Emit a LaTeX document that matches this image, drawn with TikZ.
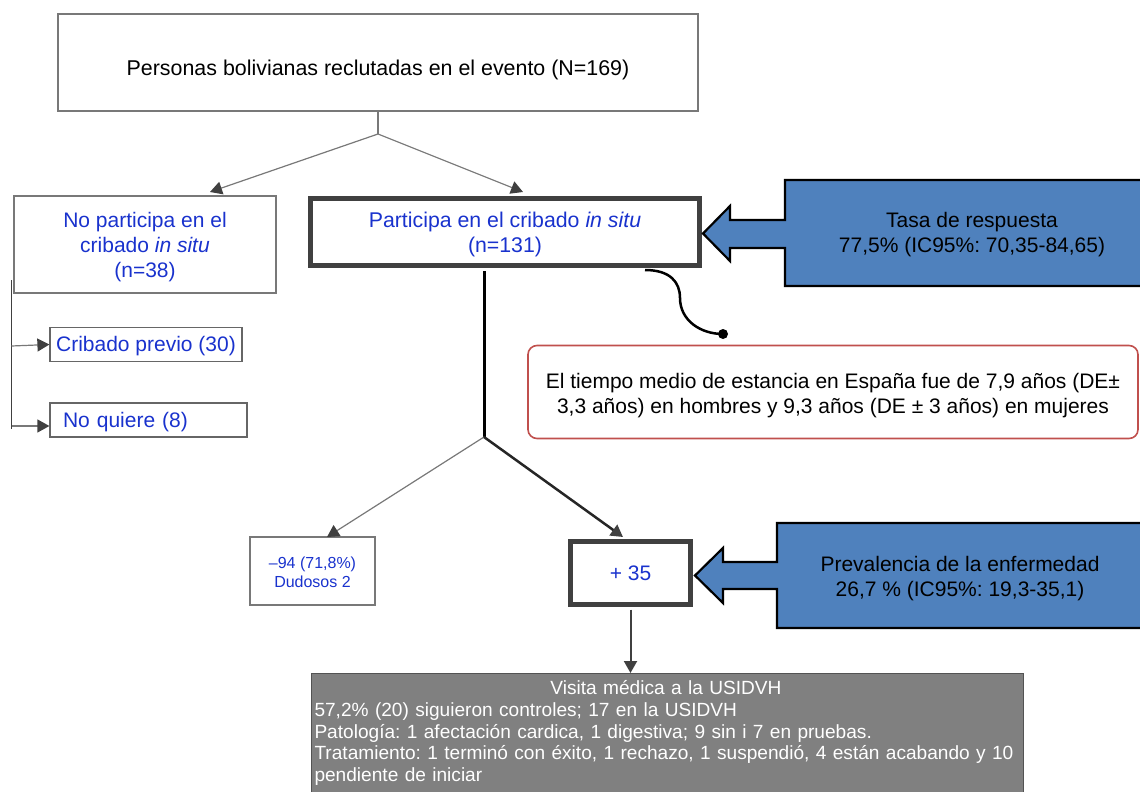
\documentclass[tikz,border=0pt]{standalone}
\usepackage{fontspec}
\setmainfont{Liberation Sans}
\usetikzlibrary{arrows.meta}
\definecolor{txtblue}{RGB}{25,50,205}
\definecolor{arrblue}{RGB}{79,129,189}
\definecolor{boxred}{RGB}{192,80,77}
\definecolor{grayfill}{RGB}{128,128,128}
\definecolor{dgray}{RGB}{64,64,64}
\definecolor{lgray}{RGB}{120,120,120}
\newcommand{\dnshift}[2]{\raisebox{-#1}[\height][\depth]{\begin{tabular}{@{}c@{}}#2\end{tabular}}}
\begin{document}
\frenchspacing
\begin{tikzpicture}[x=1pt,y=-1pt,
  font=\fontsize{21}{25}\selectfont,
  plainbox/.style={draw=lgray, line width=1.2pt, rectangle, inner sep=0pt, align=center},
  heavybox/.style={draw=dgray, line width=5pt, rectangle, inner sep=0pt, align=center},
  bluetxt/.style={text=txtblue},
  tipA/.style={-{Triangle[length=12pt,width=13pt,color=dgray]}},
  thinline/.style={draw=lgray, line width=1.2pt},
  blockarrow/.style={fill=arrblue, draw=black, line width=2.2pt, line join=miter},
]
\useasboundingbox (0,0) rectangle (1140,792);

% boxes
\node[plainbox, minimum width=640pt, minimum height=97pt, font=\fontsize{21.4}{25}\selectfont] (top) at (378,62.5) {\dnshift{8pt}{Personas bolivianas reclutadas en el evento (N=169)}};
\node[plainbox, bluetxt, minimum width=262pt, minimum height=97pt] (nop) at (145,244.5) {\dnshift{3pt}{No participa en el\\cribado \textit{in situ}\\(n=38)}};
\node[heavybox, bluetxt, minimum width=389pt, minimum height=67pt, font=\fontsize{21.3}{25}\selectfont] (par) at (505,232) {\dnshift{3pt}{Participa en el cribado \textit{in situ}\\(n=131)}};
\node[plainbox, draw=dgray!80, bluetxt, minimum width=192pt, minimum height=34pt] (crib) at (146,344.5) {\dnshift{2pt}{Cribado previo (30)}};
\node[plainbox, draw=dgray!80, bluetxt, text width=171pt, align=left, inner xsep=13pt, minimum height=34pt] (noq) at (148.5,420) {\dnshift{2pt}{No quiere (8)}};
\node[plainbox, bluetxt, font=\fontsize{16}{19}\selectfont, minimum width=125pt, minimum height=68pt] (neg) at (312.5,571) {\dnshift{3pt}{–94 (71,8\%)\\Dudosos 2}};
\node[heavybox, bluetxt, minimum width=120pt, minimum height=63pt] (pos) at (630.5,573) {\dnshift{2pt}{+ 35}};
\node[draw=boxred, line width=1.6pt, rounded corners=9pt, minimum width=610pt, minimum height=93pt, align=center, inner sep=0pt] (red) at (833,392)
  {\dnshift{4pt}{El tiempo medio de estancia en España fue de 7,9 años (DE±\\3,3 años) en hombres y 9,3 años (DE ± 3 años) en mujeres}};
\node[fill=grayfill, draw=dgray!90, line width=1pt, anchor=north west, text=white, text width=706pt, align=left,
  inner xsep=3pt, inner ysep=7pt, font=\fontsize{19.1}{21.8}\selectfont] (vis) at (311,673)
  {\makebox[703pt][c]{Visita médica a la USIDVH}\\
   57,2\% (20) siguieron controles; 17 en la USIDVH\\
   Patología: 1 afectación cardica, 1 digestiva; 9 sin i 7 en pruebas.\\
   Tratamiento: 1 terminó con éxito, 1 rechazo, 1 suspendió, 4 están acabando y 10\\
   pendiente de iniciar};

% block arrows
\path[blockarrow] (1150,180) -- (785,180) -- (785,220) -- (730,220) -- (730,206) -- (703,233.5)
  -- (730,261) -- (730,248) -- (785,248) -- (785,286) -- (1150,286) -- cycle;
\node[align=center, inner sep=0pt] (tasa) at (972,232.5) {\dnshift{2pt}{Tasa de respuesta\\77,5\% (IC95\%: 70,35-84,65)}};
\path[blockarrow] (1150,523) -- (777,523) -- (777,562) -- (723,562) -- (723,548) -- (695,575.5)
  -- (723,603) -- (723,589) -- (777,589) -- (777,628) -- (1150,628) -- cycle;
\node[align=center, inner sep=0pt] (prev) at (960,576) {\dnshift{3pt}{Prevalencia de la enfermedad\\26,7 \% (IC95\%: 19,3-35,1)}};

% connectors from top
\coordinate (j1) at (378,134);
\coordinate (a1) at (210,192);
\coordinate (a2) at (523,192);
\draw[thinline] (top.south) -- (j1);
\draw[thinline, tipA] (j1) -- (a1);
\draw[thinline, tipA] (j1) -- (a2);

% left branch
\coordinate (l0) at (11.5,280);
\coordinate (l1) at (11.5,346);
\coordinate (l2) at (11.5,429);
\draw[draw=dgray, line width=1.5pt] (l0) -- (l2);
\draw[thinline, tipA] (l1) -- (crib.west);
\draw[thinline, tipA] (11.5,426) -- (noq.west |- 0,426);

% participa branch
\coordinate (j2) at (484,437);
\coordinate (b1) at (327,537);
\coordinate (b2) at (623,537);
\draw[draw=black, line width=3pt] (par.south -| j2) ++(0,3) -- (j2);
\draw[thinline, tipA] (j2) -- (b1);
\draw[draw=black!85, line width=2.5pt, tipA] (j2) -- (b2);

% +35 to visita
\draw[draw=dgray, line width=2pt, tipA] (pos.south) ++(0,2.5) -- (vis.north -| pos.south);

% curved connector
\node[circle, fill=black, inner sep=0pt, minimum size=10pt] (dot) at (723,334) {};
\draw[line width=2.5pt] (645,270) .. controls (670,270) and (680,282) .. (680,298)
  .. controls (680,320) and (700,334) .. (dot.center);
\end{tikzpicture}
\end{document}
